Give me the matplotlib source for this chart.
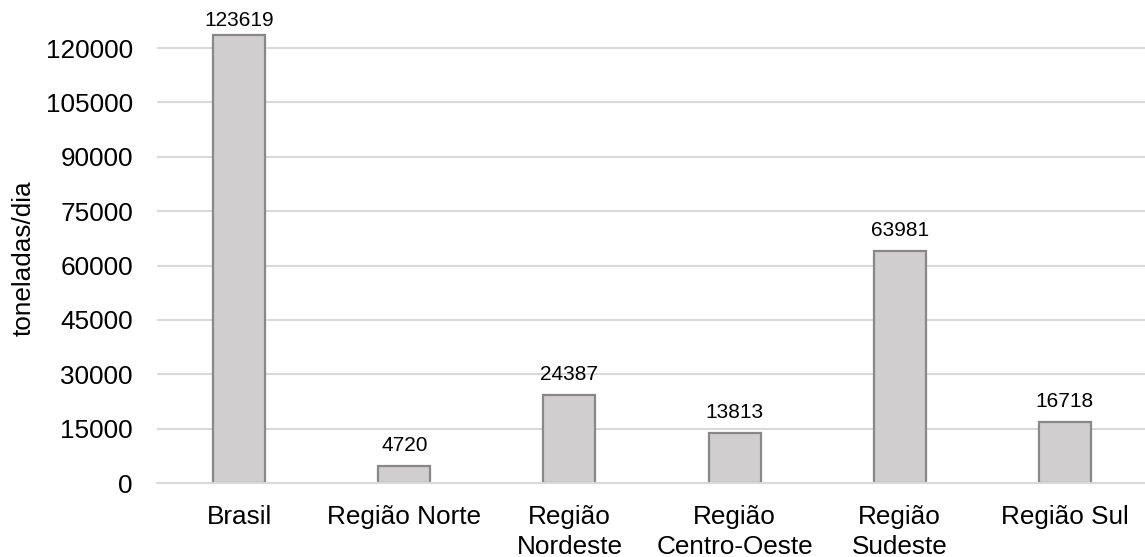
import matplotlib
matplotlib.use("Agg")
import matplotlib.pyplot as plt
from matplotlib.transforms import blended_transform_factory

# Geração de resíduos sólidos urbanos por região
categories = ["Brasil", "Região Norte", "Região\nNordeste", "Região\nCentro-Oeste",
              "Região\nSudeste", "Região Sul"]
values = [123619, 4720, 24387, 13813, 63981, 16718]
yticks = [0, 15000, 30000, 45000, 60000, 75000, 90000, 105000, 120000]

plt.rcParams["font.family"] = ["Liberation Sans", "DejaVu Sans"]

W, H = 1145, 557
fig = plt.figure(figsize=(W / 100, H / 100), dpi=100)
ax = fig.add_axes([0.1367, 0.13285, 0.8655, 0.84605])

x = list(range(len(categories)))
ax.bar(x, values, width=0.315, color="#D0CECF", edgecolor="#888888",
       linewidth=1.6, zorder=2)

ax.set_xlim(-0.5, len(categories) - 0.5)
ax.set_ylim(0, 130000)

# value labels sit 15 px above each bar, but never closer than 26 px to the
# top edge of the figure
label_gap = 15
top_limit = H - 26
label_transform = blended_transform_factory(ax.transData, fig.transFigure)
for xi, v in zip(x, values):
    bar_top_px = ax.transData.transform((xi, v))[1]
    y_px = min(bar_top_px + label_gap, top_limit)
    ax.text(xi, y_px / H, str(v), transform=label_transform,
            ha="center", va="baseline", fontsize=15, color="#000000")

ax.set_yticks(yticks)
ax.set_yticklabels([str(t) for t in yticks])
ax.set_xticks(x)
ax.set_xticklabels(categories, linespacing=1.3)

ax.yaxis.grid(True, color="#D9D9D9", linewidth=1.5, zorder=0)
ax.set_axisbelow(True)
for side in ("top", "right", "left"):
    ax.spines[side].set_visible(False)
ax.spines["bottom"].set_color("#D9D9D9")
ax.spines["bottom"].set_linewidth(1.5)
ax.spines["bottom"].set_zorder(3)

ax.tick_params(axis="y", length=0, pad=17, labelsize=18.8, labelcolor="#000000")
ax.tick_params(axis="x", length=0, pad=16, labelsize=18.8, labelcolor="#000000")

fig.text(24 / W, 1 - 258.5 / H, "toneladas/dia", rotation=90, ha="center",
         va="center", fontsize=18.8, color="#000000")

fig.savefig("out.png", dpi=100)
